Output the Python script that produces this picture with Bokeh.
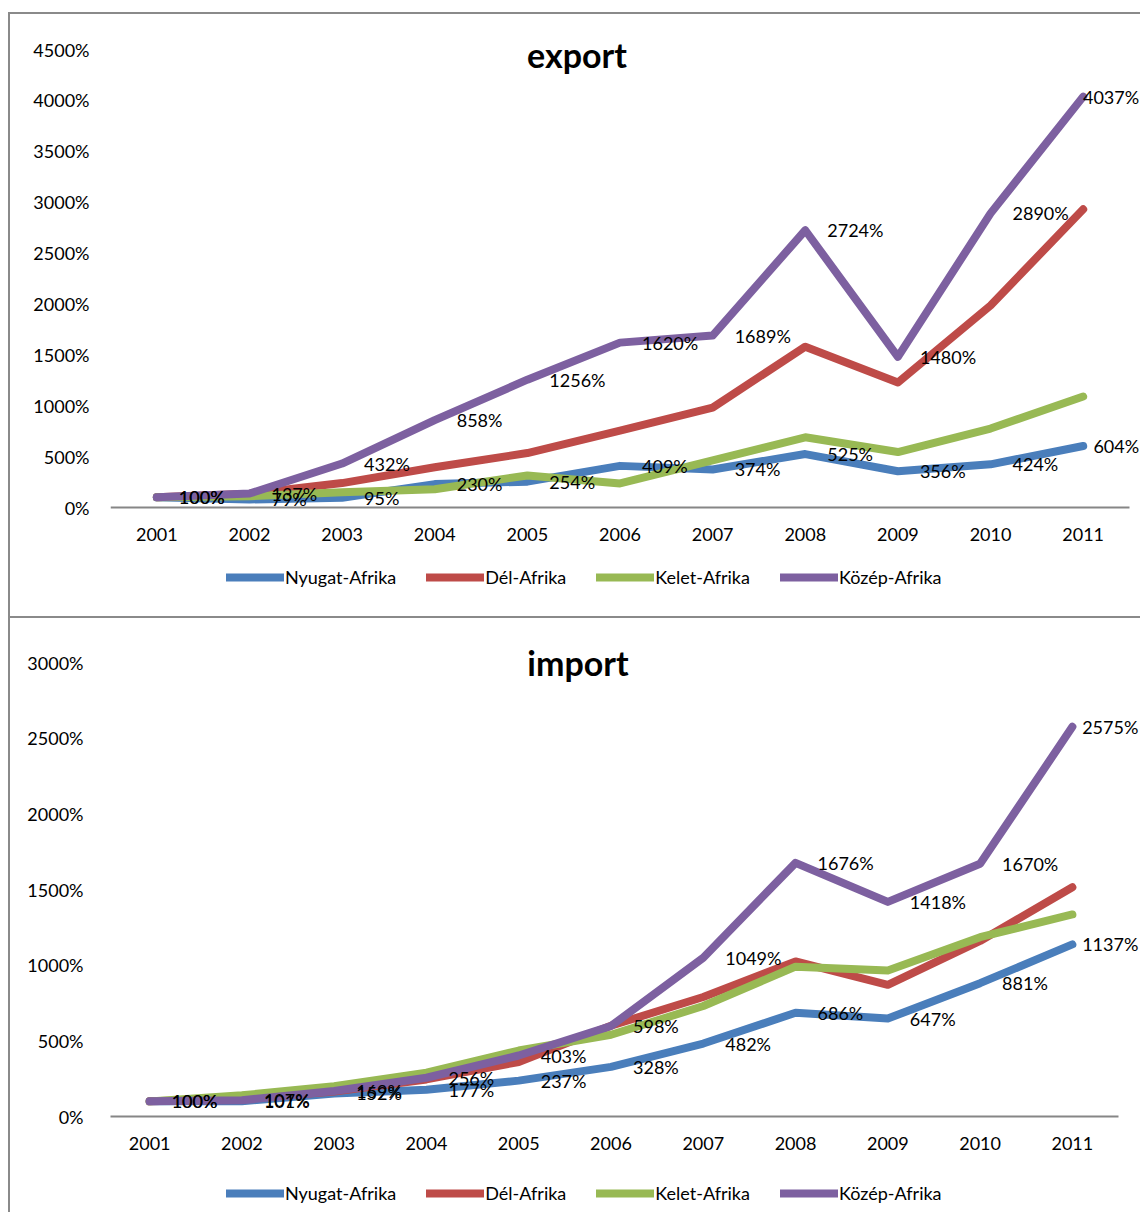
from bokeh.plotting import figure
from bokeh.layouts import column
from bokeh.models import (Range1d, Legend, LegendItem, Label,
                          FixedTicker, PrintfTickFormatter)
from bokeh.core.properties import value
from bokeh.embed import file_html
from bokeh.resources import INLINE

years = [2001, 2002, 2003, 2004, 2005, 2006, 2007, 2008, 2009, 2010, 2011]
series_names = ["Nyugat-Afrika", "Dél-Afrika", "Kelet-Afrika", "Közép-Afrika"]
colors = ["#4A7EBB", "#BE4B48", "#98B954", "#7D60A0"]

export_nyugat = [100, 79, 95, 230, 254, 409, 374, 525, 356, 424, 604]
export_del = [100, 135, 240, 395, 535, 756, 982, 1580, 1228, 1985, 2930]
export_kelet = [100, 110, 150, 180, 315, 236, 462, 690, 545, 776, 1090]
export_kozep = [100, 137, 432, 858, 1256, 1620, 1689, 2724, 1480, 2890, 4037]

import_nyugat = [100, 101, 152, 177, 237, 328, 482, 686, 647, 881, 1137]
import_del = [100, 115, 165, 245, 360, 600, 790, 1025, 870, 1160, 1515]
import_kelet = [100, 140, 200, 290, 436, 540, 730, 990, 965, 1185, 1335]
import_kozep = [100, 107, 169, 256, 403, 598, 1049, 1676, 1418, 1670, 2575]

export_ticks = [0, 500, 1000, 1500, 2000, 2500, 3000, 3500, 4000, 4500]
import_ticks = [0, 500, 1000, 1500, 2000, 2500, 3000]

FONT = "Lato"
FS = "18px"
BORDER = "2px solid #8a8a8a"
CANVAS_W = 1132
FRAME_LEFT = 100


def make_chart(title, data, ymax, ticks, height, geo, labelled, styles):
    # geo: plot-area left (px inside canvas), plot-area width, plot-area height,
    #      zero line (px from top), y label standoff, title offsets, legend position,
    #      last-label offset
    (area_left, area_w, area_h, zero_px, standoff, title_dx, title_dy,
     leg_x, leg_y, last_dx) = geo
    frame_w = CANVAS_W - FRAME_LEFT
    n = len(years)
    x0 = years[0] - 0.5
    ppy = area_w / n
    x_start = x0 + (FRAME_LEFT - area_left) / ppy
    x_end = x_start + frame_w / ppy
    px_per = area_h / ymax
    y_end = zero_px / px_per
    y_start = -(height - zero_px) / px_per
    p = figure(width=CANVAS_W, height=height, x_range=Range1d(x_start, x_end),
               y_range=Range1d(y_start, y_end), output_backend="svg", toolbar_location=None,
               min_border_left=FRAME_LEFT, min_border_right=0, min_border_top=0,
               min_border_bottom=0)
    p.styles = styles
    p.outline_line_color = None
    p.xgrid.grid_line_color = None
    p.ygrid.grid_line_color = None
    p.xaxis.visible = False

    p.yaxis.ticker = FixedTicker(ticks=ticks)
    p.yaxis.formatter = PrintfTickFormatter(format="%d%%")
    p.yaxis.axis_line_color = None
    p.yaxis.major_tick_line_color = None
    p.yaxis.minor_tick_line_color = None
    p.yaxis.major_tick_out = 0
    p.yaxis.major_label_standoff = standoff
    p.yaxis.major_label_text_font = FONT
    p.yaxis.major_label_text_font_size = FS
    p.yaxis.major_label_text_color = "#000000"

    # category axis along zero
    p.segment(x0=[x0], y0=[0], x1=[x0 + n], y1=[0], line_color="#868686", line_width=2)
    p.text(years, [0] * n, text=[str(y) for y in years], y_offset=27,
           text_baseline="middle", text_align="center",
           text_font=value(FONT), text_font_size=FS, text_color="#000000")

    items = []
    for name, vals, col in zip(series_names, data, colors):
        r = p.line(years, vals, line_color=col, line_width=8,
                   line_cap="round", line_join="round")
        items.append(LegendItem(label=name, renderers=[r]))

    for idx in labelled:
        vals = data[idx]
        txt = [f"{v}%" for v in vals]
        p.text(years[:-1], vals[:-1], text=txt[:-1], x_offset=22,
               text_baseline="middle", text_align="left",
               text_font=value(FONT), text_font_size=FS, text_color="#000000")
        p.text(years[-1:], vals[-1:], text=txt[-1:], x_offset=last_dx,
               text_baseline="middle", text_align="right",
               text_font=value(FONT), text_font_size=FS, text_color="#000000")

    p.add_layout(Label(x=years[5], y=ymax, text=title, x_offset=title_dx, y_offset=title_dy,
                       text_align="center", text_baseline="middle",
                       text_font=FONT, text_font_style="bold",
                       text_font_size="34px", text_color="#000000"))

    leg = Legend(items=items, orientation="horizontal", location=(leg_x, leg_y),
                 glyph_width=58, glyph_height=20, label_height=20, label_standoff=1,
                 spacing=30, padding=0, margin=0, border_line_color=None,
                 background_fill_alpha=0, label_text_font=FONT,
                 label_text_font_size=FS, label_text_color="#000000")
    p.add_layout(leg, "center")
    return p


p1 = make_chart("export", [export_nyugat, export_del, export_kelet, export_kozep],
                4500, export_ticks, 606,
                (100, 1019, 458, 493, 21, -43, -5, 116, 32, 56), [0, 3],
                {"border-left": BORDER, "border-top": BORDER, "border-bottom": BORDER})
p1.margin = (12, 0, 0, 8)
p2 = make_chart("import", [import_nyugat, import_del, import_kelet, import_kozep],
                3000, import_ticks, 594,
                (93, 1015, 454, 498, 27, -33, 0, 116, 8, 66), [0, 3],
                {"border-left": BORDER})
p2.margin = (0, 0, 0, 8)

layout = column(p1, p2, spacing=0)
open("out.html", "w").write(file_html(layout, INLINE))
